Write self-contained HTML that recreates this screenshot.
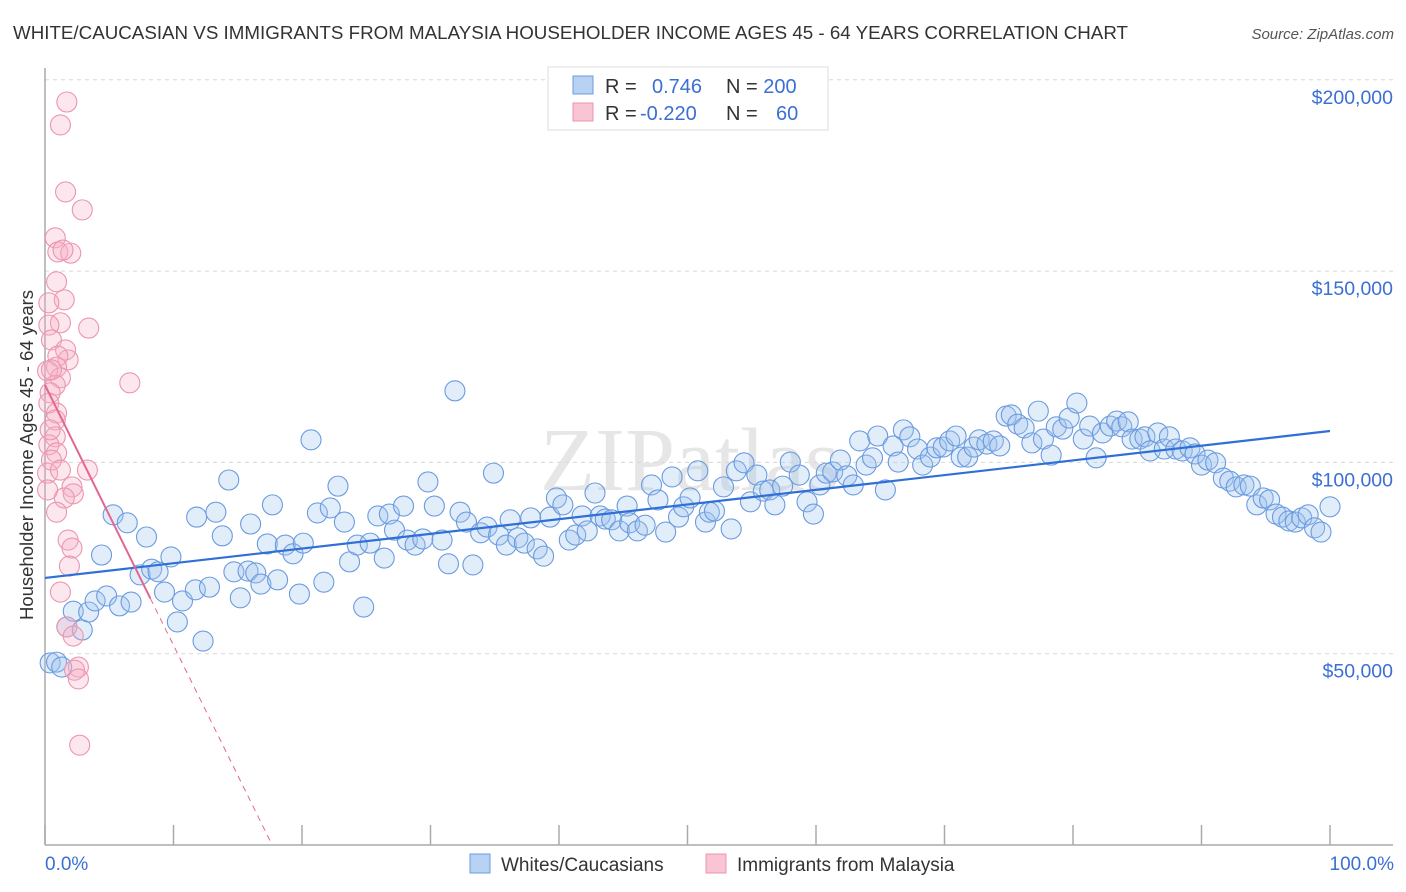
<!DOCTYPE html>
<html><head><meta charset="utf-8"><style>
body{margin:0;background:#fff;font-family:"Liberation Sans",sans-serif;}
svg{display:block}
</style></head><body>
<svg id="chart" width="1406" height="892" xmlns="http://www.w3.org/2000/svg">
<text x="13" y="39" font-size="18" fill="#333" textLength="1115" lengthAdjust="spacingAndGlyphs">WHITE/CAUCASIAN VS IMMIGRANTS FROM MALAYSIA HOUSEHOLDER INCOME AGES 45 - 64 YEARS CORRELATION CHART</text>
<text x="1394" y="39" font-size="15" fill="#555" font-style="italic" text-anchor="end">Source: ZipAtlas.com</text>
<text x="690" y="490" font-size="90" fill="#e6e6e6" text-anchor="middle" font-family="Liberation Serif">ZIPatlas</text>
<g id="grid"></g><g id="axes"></g><g id="trend"></g><g id="pts"></g>
<text transform="translate(33,455) rotate(-90)" font-size="18.5" fill="#333" text-anchor="middle">Householder Income Ages 45 - 64 years</text>
<text x="45" y="870" font-size="19" fill="#3b6fd4">0.0%</text>
<text x="1394" y="870" font-size="19" fill="#3b6fd4" text-anchor="end">100.0%</text>
<g>
<rect x="548" y="67" width="280" height="63" fill="#fff" stroke="#ddd"/>
<rect x="573" y="76" width="20" height="18" fill="#b8d2f4" stroke="#6a9be0"/>
<rect x="573" y="103" width="20" height="18" fill="#f9c4d3" stroke="#ec95ad"/>
<text x="605" y="93" font-size="20" fill="#333">R = <tspan fill="#3b6fd4" x="652">0.746</tspan><tspan x="726">N = </tspan><tspan fill="#3b6fd4">200</tspan></text>
<text x="605" y="120" font-size="20" fill="#333">R = <tspan fill="#3b6fd4" x="640">-0.220</tspan><tspan x="726">N = </tspan><tspan fill="#3b6fd4" x="776">60</tspan></text>
</g>
<g>
<rect x="470" y="854" width="20" height="19" fill="#b8d2f4" stroke="#6a9be0"/>
<text x="501" y="871" font-size="19" fill="#333">Whites/Caucasians</text>
<rect x="706" y="854" width="20" height="19" fill="#f9c4d3" stroke="#ec95ad"/>
<text x="737" y="871" font-size="19" fill="#333">Immigrants from Malaysia</text>
</g>
</svg>
<script>
const yTicks=[50000,100000,150000,200000];
const yTickLabels=["$50,000","$100,000","$150,000","$200,000"];
const xTicks=[0,10,20,30,40,50,60,70,80,90,100];
const blueX=[0.4,0.9,1.3,2.2,1.7,2.9,3.4,3.9,4.4,4.8,5.3,5.8,6.4,6.7,7.4,7.9,8.3,8.8,9.3,9.8,10.3,10.7,11.7,11.8,12.3,12.8,13.3,13.8,14.3,14.7,15.2,15.8,16.0,16.4,16.8,17.3,17.7,18.1,18.7,19.3,19.8,20.1,20.7,21.2,21.7,22.2,22.8,23.3,23.7,24.3,24.8,25.3,25.9,26.4,26.8,27.2,27.9,28.2,28.8,29.4,29.8,30.3,30.9,31.4,31.9,32.3,32.8,33.3,33.9,34.4,34.9,35.3,35.9,36.2,36.8,37.3,37.8,38.3,38.8,39.3,39.8,40.3,40.8,41.3,41.8,42.2,42.8,43.2,43.6,44.1,44.7,45.3,45.5,46.1,46.7,47.2,47.7,48.3,48.8,49.3,49.7,50.2,50.8,51.4,51.7,52.1,52.8,53.4,53.8,54.4,54.9,55.4,55.9,56.4,56.8,57.4,58.0,58.7,59.3,59.8,60.3,60.8,61.3,61.9,62.4,62.9,63.4,63.9,64.4,64.8,65.4,66.0,66.4,66.8,67.3,67.9,68.3,68.9,69.4,69.9,70.4,70.9,71.3,71.8,72.3,72.7,73.3,73.8,74.3,74.8,75.2,75.7,76.2,76.8,77.3,77.7,78.3,78.7,79.2,79.7,80.3,80.8,81.3,81.8,82.3,82.9,83.4,83.8,84.3,84.6,85.2,85.6,86.0,86.6,87.1,87.5,88.0,88.5,89.1,89.5,90.0,90.5,91.1,91.7,92.2,92.7,93.3,93.8,94.3,94.8,95.3,95.8,96.3,96.8,97.3,97.8,98.3,98.8,99.3,100.0];
const blueY=[47.6,47.8,46.5,61.1,57.0,56.2,60.9,63.8,75.8,65.1,86.3,62.5,84.2,63.5,70.6,80.5,72.1,71.4,66.1,75.3,58.3,63.8,66.7,85.7,53.3,67.4,87.0,80.8,95.4,71.4,64.6,71.6,83.9,71.1,68.2,78.7,88.9,69.3,78.4,76.1,65.6,78.9,105.9,86.8,68.7,88.1,93.8,84.4,74.0,78.4,62.2,78.9,86.0,75.0,86.5,82.3,88.6,79.7,78.4,80.0,94.9,88.6,79.7,73.5,118.7,87.0,84.4,73.2,81.6,83.1,97.2,81.0,78.4,85.0,80.3,78.9,85.5,77.4,75.5,85.7,90.7,88.9,79.7,81.0,86.0,82.1,92.0,86.0,85.2,85.0,82.1,88.6,84.2,82.1,83.6,94.1,90.2,81.8,96.2,85.7,88.4,90.7,97.8,84.4,87.0,87.3,93.6,82.6,97.8,99.9,89.7,96.7,92.5,92.8,88.9,93.8,100.1,96.7,89.7,86.5,94.1,97.2,97.5,100.6,96.5,94.1,105.6,99.3,101.2,106.9,92.8,104.3,100.1,108.5,106.7,103.5,99.3,101.4,103.8,104.0,105.6,106.9,101.4,101.4,104.0,105.9,104.8,105.6,104.3,112.1,112.4,110.0,109.0,105.1,113.4,106.1,101.9,109.3,108.7,111.6,115.5,106.1,109.5,101.2,107.7,109.5,110.8,109.3,110.6,106.1,106.1,106.7,103.0,107.7,103.5,106.7,103.5,103.0,103.8,102.2,99.3,100.6,99.9,95.9,95.1,93.6,94.1,93.8,88.9,90.7,90.2,86.5,85.7,84.7,84.4,85.5,86.3,82.9,81.8,88.4];
const pinkX=[1.7,1.2,1.6,2.9,0.8,1.0,2.0,1.4,0.9,1.5,0.3,1.2,3.4,0.3,0.5,1.6,1.8,1.0,0.9,1.2,0.2,0.8,0.4,0.3,0.9,0.8,0.8,0.3,0.9,0.5,0.2,3.3,2.1,2.2,1.5,0.9,1.8,2.1,1.9,6.6,1.2,1.7,2.2,2.6,2.3,2.6,2.7,0.5,0.2,0.4,1.2];
const pinkY=[194.2,188.2,170.7,166.0,158.7,155.0,154.7,155.5,147.2,142.5,141.7,136.5,135.1,135.9,132.0,129.4,126.8,127.8,124.9,122.1,123.9,120.2,118.2,115.5,112.9,111.1,106.7,104.6,102.5,100.6,97.2,98.0,93.6,91.8,90.7,87.0,79.7,77.6,72.9,120.8,66.1,57.0,54.6,46.5,45.7,43.4,26.1,124.2,92.8,108.5,98.0];
const blueTrend=[69.8,108.2];
const pinkTrend=[120.2,-6.8];
const pinkSolidEnd=8.2;
const NS="http://www.w3.org/2000/svg";
const X=p=>45+p*12.85;
const Y=k=>845-k*1000*191.3/50000;
function mk(tag,attrs,parent){const e=document.createElementNS(NS,tag);for(const k in attrs)e.setAttribute(k,attrs[k]);document.getElementById(parent).appendChild(e);return e;}
yTicks.forEach((v,i)=>{
 const l=mk('line',{x1:45,x2:1393,y1:Y(v/1000),y2:Y(v/1000),stroke:'#d8d8d8','stroke-dasharray':'4,4'},'grid');
 
 
 const t=mk('text',{x:1393,y:Y(v/1000)+24,'font-size':19.5,fill:'#3b6fd4','text-anchor':'end'},'grid');
 t.textContent=yTickLabels[i];
 
 
});
let a=mk('line',{x1:45,x2:45,y1:68,y2:845,stroke:'#aaa','stroke-width':1.5},'axes');


a=mk('line',{x1:45,x2:1393,y1:845,y2:845,stroke:'#aaa','stroke-width':1.5},'axes');


xTicks.forEach(p=>{const t=mk('line',{x1:X(p),x2:X(p),y1:825,y2:845,stroke:'#aaa','stroke-width':1.5},'axes');
 
 });
blueX.forEach((x,i)=>{const c=mk('circle',{cx:X(x),cy:Y(blueY[i]),r:10,fill:'rgba(160,195,240,0.3)',stroke:'#6a9be0','stroke-width':1.1},'pts');
 
 });
pinkX.forEach((x,i)=>{const c=mk('circle',{cx:X(x),cy:Y(pinkY[i]),r:10,fill:'rgba(245,175,198,0.3)',stroke:'#ec95ad','stroke-width':1.1},'pts');
 
 });
let tl=mk('line',{x1:X(0),y1:Y(blueTrend[0]),x2:X(100),y2:Y(blueTrend[1]),stroke:'#2f6fd6','stroke-width':2.2},'pts');


const pz=-pinkTrend[0]/pinkTrend[1];
tl=mk('line',{x1:X(0),y1:Y(pinkTrend[0]),x2:X(pinkSolidEnd),y2:Y(pinkTrend[0]+pinkTrend[1]*pinkSolidEnd),stroke:'#e4668f','stroke-width':2},'pts');


tl=mk('line',{x1:X(pinkSolidEnd),y1:Y(pinkTrend[0]+pinkTrend[1]*pinkSolidEnd),x2:X(pz),y2:Y(0),stroke:'#e4668f','stroke-width':1,'stroke-dasharray':'6,5'},'pts');


</script>
</body></html>
